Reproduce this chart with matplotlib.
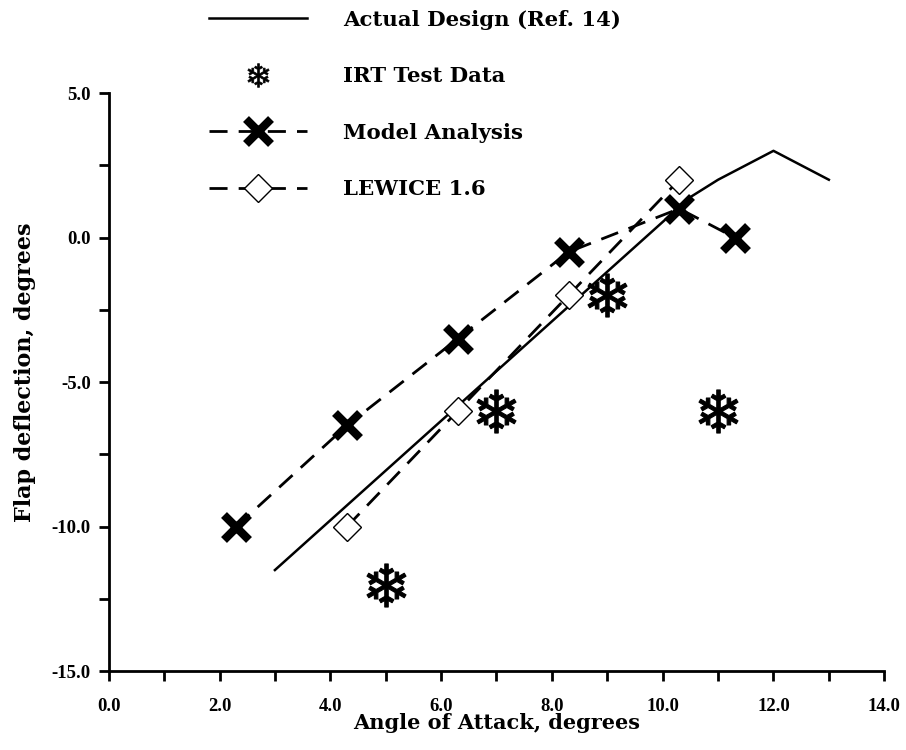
import matplotlib
matplotlib.use("Agg")
import matplotlib.pyplot as plt
from matplotlib.lines import Line2D
from matplotlib.ticker import MultipleLocator, FixedLocator

plt.rcParams["font.family"] = ["DejaVu Serif"]
plt.rcParams["font.weight"] = "bold"
plt.rcParams["axes.labelweight"] = "bold"
plt.rcParams["axes.unicode_minus"] = False
plt.rcParams["mathtext.fontset"] = "dejavusans"

# data
design_aoa = [3.0, 10.5, 11.0, 12.0, 13.0]
design_flap = [-11.5, 1.4, 2.0, 3.0, 2.0]

irt_aoa = [5.0, 7.0, 9.0, 11.0]
irt_flap = [-12.0, -6.0, -2.0, -6.0]

model_aoa = [2.3, 4.3, 6.3, 8.3, 10.3, 11.3]
model_flap = [-10.0, -6.5, -3.5, -0.5, 1.0, 0.0]

lewice_aoa = [4.3, 6.3, 8.3, 10.3]
lewice_flap = [-10.0, -6.0, -2.0, 2.0]

x_ticks = [0, 2, 4, 6, 8, 10, 12, 14]
y_ticks = [-15, -10, -5, 0, 5]

SNOW = "$\u2744$"
DASH = (0, (6.5, 4))

fig = plt.figure(figsize=(9.06, 7.5), dpi=100)
ax = fig.add_axes([0.120, 0.105, 0.856, 0.771])

ax.plot(design_aoa, design_flap, color="black", lw=1.8, clip_on=False)
ax.plot(irt_aoa, irt_flap, ls="none", marker=SNOW, ms=31, color="black",
        mew=0.8, clip_on=False)
ax.plot(model_aoa, model_flap, color="black", lw=2.0, ls=DASH,
        marker="x", ms=18, mew=6, clip_on=False)
ax.plot(lewice_aoa, lewice_flap, color="black", lw=2.0, ls=DASH,
        marker="D", ms=14, mfc="white", mec="black", mew=1.0, clip_on=False)

ax.set_xlim(0, 14)
ax.set_ylim(-15, 5)
ax.xaxis.set_major_locator(FixedLocator(x_ticks))
ax.xaxis.set_minor_locator(MultipleLocator(1))
ax.yaxis.set_major_locator(FixedLocator(y_ticks))
ax.yaxis.set_minor_locator(MultipleLocator(2.5))
tick_font = dict(family="Liberation Serif", weight="bold", size=13.5)
ax.set_xticklabels([f"{v:.1f}" for v in x_ticks], **tick_font)
ax.set_yticklabels([f"{v:.1f}" for v in y_ticks], **tick_font)

for side in ("top", "right"):
    ax.spines[side].set_visible(False)
for side in ("left", "bottom"):
    ax.spines[side].set_linewidth(2)
ax.tick_params(which="both", direction="out", length=7, width=2)
ax.tick_params(axis="x", pad=12)
ax.tick_params(axis="y", pad=6)

ax.set_xlabel("Angle of Attack, degrees", fontsize=15)
ax.xaxis.set_label_coords(0.5, -0.073)
ax.set_ylabel("Flap deflection, degrees", fontsize=16)
ax.yaxis.set_label_coords(-0.094, 0.517)

handles = [
    Line2D([], [], color="black", lw=1.8),
    Line2D([], [], ls="none", marker=SNOW, ms=17, color="black", mew=0.5),
    Line2D([], [], color="black", lw=2.0, ls=DASH, marker="x",
           ms=18, mew=6),
    Line2D([], [], color="black", lw=2.0, ls=DASH, marker="D",
           ms=14, mfc="white", mec="black", mew=1.0),
]
labels = ["Actual Design (Ref. 14)", "IRT Test Data", "Model Analysis",
          "LEWICE 1.6"]
fig.legend(handles, labels, loc="upper left", bbox_to_anchor=(0.231, 0.987),
           frameon=False, fontsize=15.3, handlelength=4.6, handletextpad=1.7,
           labelspacing=1.72, borderpad=0, borderaxespad=0)

fig.savefig("out.png", dpi=100)
